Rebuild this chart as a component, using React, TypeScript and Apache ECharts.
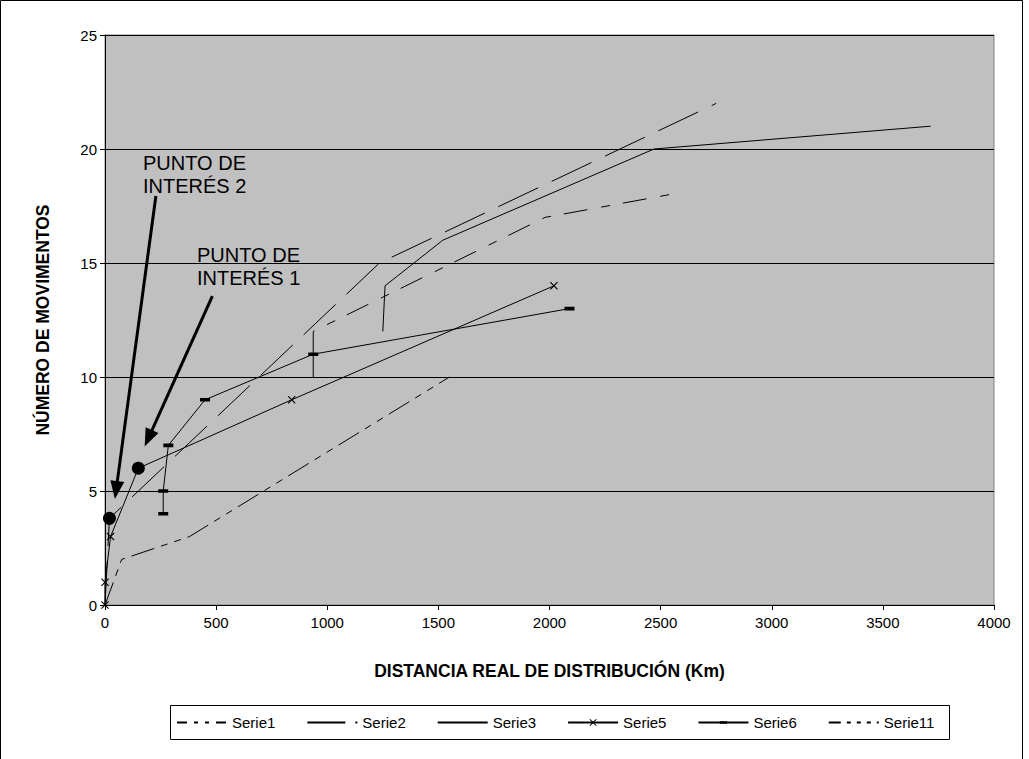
import React, { useEffect, useRef } from "react";
import * as echarts from "echarts";

// ---- data ----
const serie1: number[][] = [[0, 0], [75, 2], [380, 3], [1550, 10]];
const serie2: number[][] = [[0, 0], [20, 3.8], [1235, 15], [2750, 22]];
const serie3: number[][] = [[1250, 12], [1260, 14], [1520, 16], [2470, 20], [3715, 21]];
const serie5: number[][] = [[0, 0], [0, 1], [25, 3], [150, 6], [840, 9], [2020, 14]];
const serie6: number[][] = [[262, 4], [262, 5], [285, 7], [450, 9], [937, 11], [2090, 13]];
const serie11: number[][] = [[937, 10], [937, 12], [1980, 17], [2540, 18]];
const interestPoints: number[][] = [[20, 3.8], [150, 6]];
const arrowStarts: number[][] = [[229, 17.94], [483, 13.55]];
const arrowEnds: number[][] = [[50, 5.04], [195, 7.31]];
const noteTexts: string[] = ["PUNTO DE\nINTERÉS 2", "PUNTO DE\nINTERÉS 1"];
const seriesNames: string[] = ["Serie1", "Serie2", "Serie3", "Serie5", "Serie6", "Serie11"];

const FONT = "'Liberation Sans', Arial, sans-serif";
const X_SYMBOL = "path://M0,1L1,0L5,4L9,0L10,1L6,5L10,9L9,10L5,6L1,10L0,9L4,5Z";
const BAR_SYMBOL = "path://M0,0L0.02,0L0,0.02Z M0,3.2H10V6.8H0Z M10,10L9.98,10L10,9.98Z";
const CLEAR = "rgba(0,0,0,0)";

export default function App() {
  const ref = useRef<HTMLDivElement>(null);
  useEffect(() => {
    if (!ref.current) return;
    const chart = echarts.init(ref.current, undefined, { renderer: "svg" });
    const lineBase = {
      type: "line", symbol: "none", showSymbol: false, z: 3,
      itemStyle: { color: CLEAR, borderWidth: 0 },
    };
    const option: any = {
      animation: false,
      backgroundColor: "#ffffff",
      textStyle: { fontFamily: FONT },
      grid: {
        left: 105, right: 35, top: 35, bottom: 154,
        show: true, backgroundColor: "#c0c0c0", borderColor: "#808080", borderWidth: 1,
      },
      xAxis: {
        type: "value", min: 0, max: 4000, interval: 500,
        name: "DISTANCIA REAL DE DISTRIBUCIÓN (Km)", nameLocation: "middle", nameGap: 57,
        nameTextStyle: { fontSize: 17.5, fontWeight: "bold", color: "#000", fontFamily: FONT },
        axisLine: { lineStyle: { color: "#000", width: 1 } },
        axisTick: { show: true, inside: false, length: 5, lineStyle: { color: "#000" } },
        axisLabel: { color: "#000", fontSize: 15, margin: 10, fontFamily: FONT, formatter: (v: number) => String(v) },
        splitLine: { show: false },
      },
      yAxis: {
        type: "value", min: 0, max: 25, interval: 5,
        name: "NÚMERO DE MOVIMENTOS", nameLocation: "middle", nameGap: 53, nameRotate: 90,
        nameTextStyle: { fontSize: 17.5, fontWeight: "bold", color: "#000", fontFamily: FONT },
        axisLine: { show: true, lineStyle: { color: "#000", width: 1 } },
        axisTick: { show: true, inside: false, length: 5, lineStyle: { color: "#000" } },
        axisLabel: { color: "#000", fontSize: 15, margin: 8, fontFamily: FONT, formatter: (v: number) => String(v) },
        splitLine: { show: true, lineStyle: { color: "#000", width: 1 } },
      },
      legend: {
        left: 171, top: 710, itemWidth: 50, itemHeight: 9, itemGap: 31,
        textStyle: { fontSize: 15, color: "#000", fontFamily: FONT },
        data: [
          { name: "Serie1", lineStyle: { type: [10, 7, 4, 7, 4, 7] } },
          { name: "Serie2", lineStyle: { type: [38, 10] } },
          { name: "Serie3" },
          { name: "Serie5" },
          { name: "Serie6" },
          { name: "Serie11", lineStyle: { type: [12, 6, 4, 6, 4, 6, 4, 6] } },
        ],
        selectedMode: false,
      },
      graphic: [
        {
          type: "rect", silent: true, z: 100,
          shape: { x: 0.5, y: 0.5, width: 1022, height: 800 },
          style: { fill: "none", stroke: "#000", lineWidth: 1 },
        },
        {
          type: "rect", silent: true, z: 100,
          shape: { x: 170.5, y: 705.5, width: 779, height: 34 },
          style: { fill: "none", stroke: "#000", lineWidth: 1 },
        },
        {
          type: "text", x: 143, y: 151, z: 100,
          style: { text: noteTexts[0], font: `20px ${FONT}`, fill: "#000", lineHeight: 23 },
        },
        {
          type: "text", x: 197, y: 243, z: 100,
          style: { text: noteTexts[1], font: `20px ${FONT}`, fill: "#000", lineHeight: 23 },
        },
      ],
      series: [
        {
          ...lineBase, name: seriesNames[0], data: serie1,
          lineStyle: { color: "#000", width: 1, type: [24, 7, 7, 7, 7, 7] },
        },
        {
          ...lineBase, name: seriesNames[1], data: serie2,
          lineStyle: { color: "#000", width: 1, type: [44, 15] },
        },
        {
          ...lineBase, name: seriesNames[2], data: serie3,
          lineStyle: { color: "#000", width: 1, type: "solid" },
        },
        {
          type: "line", name: seriesNames[3], data: serie5, z: 4,
          symbol: X_SYMBOL, symbolSize: 8, showSymbol: true,
          itemStyle: { color: "#000" },
          lineStyle: { color: "#000", width: 1, type: "solid" },
        },
        {
          type: "line", name: seriesNames[4], data: serie6, z: 4,
          symbol: BAR_SYMBOL, symbolSize: 10, showSymbol: true,
          itemStyle: { color: "#000" },
          lineStyle: { color: "#000", width: 1, type: "solid" },
        },
        {
          ...lineBase, name: seriesNames[5], data: serie11,
          lineStyle: {
            color: "#000", width: 1,
            type: [47, 14, 9, 13, 24, 14, 9, 13, 24, 14, 9, 13, 24, 14, 9, 13, 24, 14, 9, 13, 24, 14, 9, 13, 24, 14, 9, 13],
          },
        },
        {
          type: "scatter", name: "Puntos de interés", data: interestPoints, z: 6,
          symbol: "circle", symbolSize: 13, itemStyle: { color: "#000", opacity: 1 },
          markLine: {
            silent: true, animation: false,
            symbol: ["none", "triangle"], symbolSize: [14, 18],
            lineStyle: { color: "#000", width: 3, type: "solid" },
            label: { show: false },
            data: arrowStarts.map((s, i) => [{ coord: s }, { coord: arrowEnds[i] }]),
          },
        },
      ],
    };
    chart.setOption(option);
    return () => chart.dispose();
  }, []);
  return (
    <div
      ref={ref}
      style={{ position: "fixed", left: 0, top: 0, width: 1029, height: 759 }}
    />
  );
}
